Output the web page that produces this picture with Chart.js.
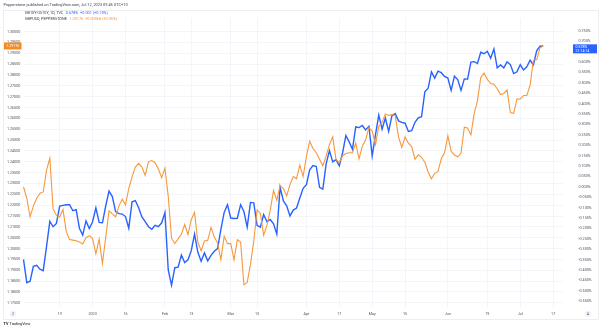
<!DOCTYPE html>
<html><head><meta charset="utf-8">
<script src="https://cdn.jsdelivr.net/npm/chart.js@4"></script>
<style>html,body{margin:0;padding:0;background:#fff}#wrap{width:602px;height:331px}</style>
</head><body><div id="wrap"><canvas id="c" width="602" height="331"></canvas></div>
<script>
// ---------- categories (trading days) ----------
const firstDay = '2022-12-02';
const lastAxisDay = '2023-07-20';
const dates = [];
(function(){
  const d = new Date(firstDay + 'T00:00:00Z'), end = new Date(lastAxisDay + 'T00:00:00Z');
  while (d <= end) { const w = d.getUTCDay(); if (w !== 0 && w !== 6) dates.push(d.toISOString().slice(0,10)); d.setUTCDate(d.getUTCDate()+1); }
})();

// ---------- series ----------
const gbpusd = [1.2285,1.2232,1.2147,1.2196,1.2232,1.2255,1.2261,1.2362,1.2416,1.2183,
1.2153,1.2146,1.2180,1.2078,1.2042,1.2039,1.2036,1.2030,1.2021,1.2050,
1.2060,1.2046,1.1976,1.2044,1.1931,1.2053,1.2174,1.2160,1.2147,1.2196,
1.2228,1.2201,1.2277,1.2331,1.2376,1.2393,1.2376,1.2337,1.2401,1.2406,
1.2396,1.2367,1.2327,1.2371,1.2241,1.2048,1.2023,1.2045,1.2066,1.2111,
1.2064,1.2133,1.2167,1.2030,1.1990,1.2035,1.2038,1.2098,1.2053,1.2026,
1.1949,1.2057,1.2023,1.2023,1.1948,1.2041,1.2030,1.1833,1.1844,1.1927,
1.2035,1.2178,1.2162,1.2062,1.2107,1.2176,1.2268,1.2223,1.2291,1.2277,
1.2243,1.2295,1.2332,1.2322,1.2385,1.2332,1.2425,1.2495,1.2461,1.2442,
1.2412,1.2382,1.2426,1.2479,1.2515,1.2410,1.2396,1.2428,1.2438,1.2442,
1.2442,1.2486,1.2414,1.2472,1.2502,1.2557,1.2542,1.2479,1.2564,1.2582,
1.2621,1.2614,1.2618,1.2614,1.2515,1.2466,1.2515,1.2486,1.2470,1.2412,
1.2432,1.2421,1.2398,1.2353,1.2322,1.2347,1.2356,1.2414,1.2443,1.2520,
1.2449,1.2431,1.2423,1.2439,1.2560,1.2556,1.2524,1.2623,1.2681,1.2789,
1.2809,1.2780,1.2761,1.2758,1.2737,1.2710,1.2715,1.2731,1.2627,1.2623,
1.2689,1.2690,1.2706,1.2706,1.2753,1.2868,1.2870,1.2926,1.2934];

const spread = [-0.349,-0.461,-0.454,-0.382,-0.377,-0.396,-0.403,-0.288,-0.166,-0.192,
-0.176,-0.093,-0.089,-0.086,-0.086,-0.115,-0.110,-0.199,-0.232,-0.164,
-0.201,-0.168,-0.101,-0.171,-0.173,-0.091,-0.021,-0.047,-0.119,-0.129,
-0.131,-0.143,-0.199,-0.072,-0.066,-0.101,-0.145,-0.167,-0.192,-0.204,
-0.185,-0.192,-0.173,-0.124,-0.400,-0.473,-0.389,-0.386,-0.328,-0.364,
-0.351,-0.307,-0.227,-0.315,-0.358,-0.318,-0.356,-0.330,-0.310,-0.297,
-0.206,-0.123,-0.086,-0.150,-0.152,-0.151,-0.086,-0.119,-0.194,-0.075,
-0.077,-0.185,-0.194,-0.133,-0.168,-0.157,-0.178,-0.227,-0.002,-0.068,
-0.091,-0.140,-0.112,-0.102,-0.054,-0.007,0.010,0.082,0.102,0.098,
-0.002,-0.011,0.110,0.174,0.120,0.131,0.101,0.164,0.246,0.216,
0.181,0.288,0.285,0.295,0.274,0.291,0.149,0.251,0.345,0.277,
0.331,0.267,0.342,0.352,0.317,0.310,0.306,0.266,0.270,0.310,
0.332,0.337,0.457,0.474,0.553,0.523,0.556,0.549,0.531,0.523,
0.464,0.532,0.516,0.464,0.519,0.518,0.600,0.602,0.593,0.647,
0.640,0.652,0.619,0.663,0.572,0.586,0.572,0.601,0.588,0.545,
0.553,0.587,0.562,0.577,0.609,0.586,0.654,0.676,0.678];

// ---------- tick labels ----------
const tickDates  = ['2022-12-19','2023-01-02','2023-01-16','2023-02-01','2023-02-13','2023-03-01','2023-03-13','2023-04-03','2023-04-17','2023-05-01','2023-05-15','2023-06-01','2023-06-19','2023-07-03','2023-07-17'];
const tickLabels = ['19','2023','16','Feb','13','Mar','13','Apr','17','May','15','Jun','19','Jul','17'];
const leftTicks = [];  for (let k = 0; k <= 25; k++) leftTicks.push(+(1.175 + k*0.005).toFixed(3));
const rightTicks = []; for (let k = 0; k <= 26; k++) rightTicks.push(+(-0.55 + k*0.05).toFixed(2));

// ---------- texts ----------
const titleText = 'Pepperstone published on TradingView.com, Jul 12, 2023 09:45 UTC+10';
const legend1 = ['GB10Y-US10Y, 1D, TVC', '0.678%', '+0.001 (+0.15%)'];
const legend2 = ['GBPUSD, PEPPERSTONE', '1.29176', '+0.00068 (+0.05%)'];
const blueBadge = ['0.678%', '21:14:14'];
const orangeBadge = '1.29176';

const BLUE = '#2962ff', ORANGE = '#f7983a', TXT = '#50535e', GRID = '#f0f3fa';
const FONT = 'Roboto, "Open Sans", sans-serif';

const overlay = {
  id: 'overlay',
  beforeDraw(chart) { const c = chart.ctx; c.save(); c.fillStyle = '#fff'; c.fillRect(0,0,chart.width,chart.height); c.restore(); },
  afterDraw(chart) {
    const c = chart.ctx;
    c.save();
    c.strokeStyle = '#e0e3eb'; c.lineWidth = 0.6;
    c.strokeRect(3.5, 10.5, 595, 309);
    c.textBaseline = 'middle'; c.textAlign = 'left';
    c.font = '3.9px ' + FONT; c.fillStyle = '#3b3e48';
    c.fillText(titleText, 3.5, 5);
    // legend
    function legendLine(parts, y, col) {
      let x = 25;
      c.fillStyle = '#3b3e48'; c.fillText(parts[0], x, y); x += c.measureText(parts[0]).width + 2.5;
      c.fillStyle = col; c.fillText(parts[1], x, y); x += c.measureText(parts[1]).width + 2;
      c.fillText(parts[2], x, y);
    }
    c.font = '3.8px ' + FONT;
    legendLine(legend1, 13.4, BLUE);
    legendLine(legend2, 19.2, ORANGE);
    // badges
    const yL = chart.scales.yL.getPixelForValue(gbpusd[gbpusd.length-1]);
    c.fillStyle = '#f68b1f'; c.fillRect(4, yL - 3.5, 17.5, 7);
    c.fillStyle = '#fff'; c.textAlign = 'center'; c.font = '3.6px ' + FONT;
    c.fillText(orangeBadge, 12.75, yL + 0.2);
    const yR = chart.scales.yR.getPixelForValue(spread[spread.length-1]);
    c.fillStyle = BLUE; c.fillRect(573, yR - 1.5, 24, 9);
    c.fillStyle = '#fff'; c.textAlign = 'left';
    c.fillText(blueBadge[0], 575.5, yR + 1.2);
    c.fillText(blueBadge[1], 575.5, yR + 5);
    // bottom buttons
    c.fillStyle = '#f0f3fa';
    c.beginPath(); c.arc(13, 314, 3.3, 0, Math.PI*2); c.fill();
    c.beginPath(); c.arc(588, 314, 3.3, 0, Math.PI*2); c.fill();
    c.fillStyle = TXT; c.textAlign = 'center'; c.font = '3.6px ' + FONT;
    c.fillText('2', 13, 314.2); c.fillText('A', 588, 314.2);
    // logo
    c.textAlign = 'left'; c.fillStyle = '#131722';
    c.font = 'bold 3.8px ' + FONT; c.fillText('TV', 3.5, 324.5);
    c.font = '3.8px ' + FONT; c.fillText('TradingView', 9.5, 324.5);
    c.restore();
  }
};

new Chart(document.getElementById('c'), {
  type: 'line',
  data: {
    labels: dates,
    datasets: [
      { label: 'GBPUSD', data: gbpusd, yAxisID: 'yL', borderColor: ORANGE, borderWidth: 1.1, pointRadius: 0, tension: 0, fill: false },
      { label: 'GB10Y-US10Y', data: spread, yAxisID: 'yR', borderColor: BLUE, borderWidth: 1.4, pointRadius: 0, tension: 0, fill: false }
    ]
  },
  options: {
    responsive: false, animation: false, devicePixelRatio: 1,
    layout: { padding: { left: 3, right: 4, top: 10, bottom: 12 } },
    plugins: { legend: { display: false }, tooltip: { enabled: false } },
    scales: {
      x: {
        type: 'category', offset: false,
        afterBuildTicks: s => { s.ticks = tickDates.map(d => ({ value: dates.indexOf(d) })); },
        afterFit: s => { s.height = 11; },
        ticks: { autoSkip: false, maxRotation: 0, padding: 3.5, color: TXT, font: { size: 3.7, family: FONT },
                 callback: (v, i) => tickLabels[i] },
        grid: { color: GRID, lineWidth: 0.8, drawTicks: false },
        border: { display: false }
      },
      yL: {
        position: 'left', min: 1.17262, max: 1.30642,
        afterBuildTicks: s => { s.ticks = leftTicks.map(v => ({ value: v })); },
        afterFit: s => { s.width = 20.5; },
        ticks: { padding: 3.2, color: TXT, font: { size: 3.7, family: FONT }, callback: v => v.toFixed(5) },
        grid: { color: GRID, lineWidth: 0.8, drawTicks: false },
        border: { display: false }
      },
      yR: {
        position: 'right', min: -0.5828, max: 0.8133,
        afterBuildTicks: s => { s.ticks = rightTicks.map(v => ({ value: v })); },
        afterFit: s => { s.width = 35; },
        ticks: { padding: 15.5, color: TXT, font: { size: 3.7, family: FONT }, callback: v => v.toFixed(3) + '%' },
        grid: { display: false, drawTicks: false },
        border: { display: false }
      }
    }
  },
  plugins: [overlay]
});
</script>
</body></html>
